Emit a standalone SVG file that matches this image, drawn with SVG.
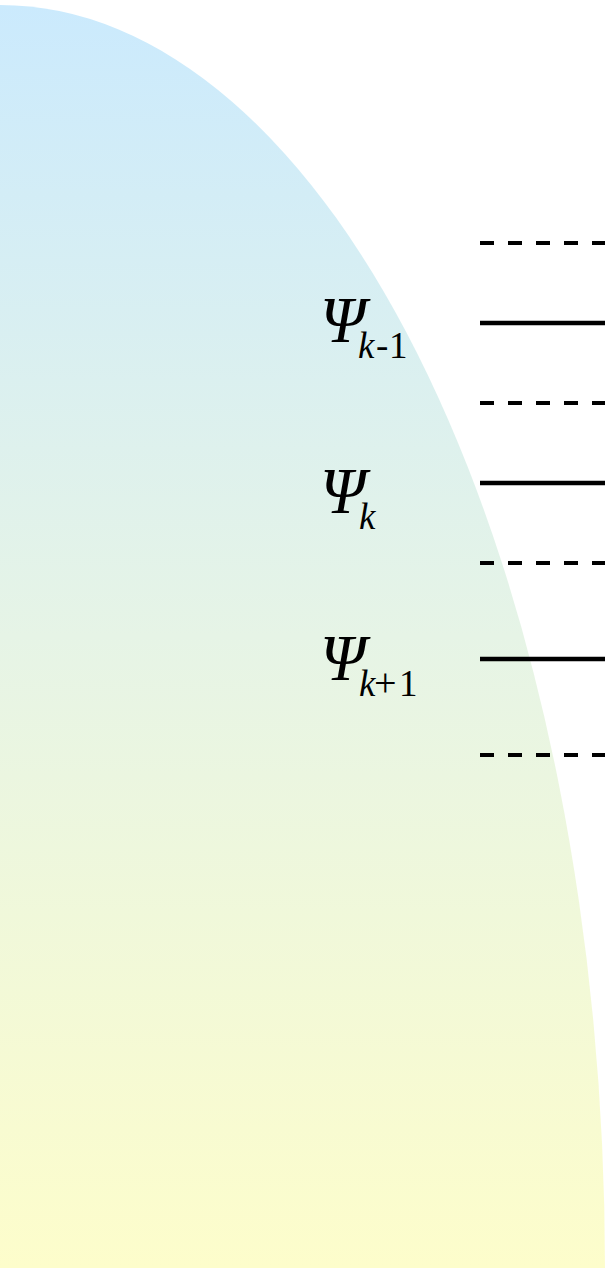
<svg xmlns="http://www.w3.org/2000/svg" width="605" height="1268" viewBox="0 0 605 1268">
<style>
.dash{stroke:#000;stroke-width:4;stroke-dasharray:14 14;fill:none}
.solid{stroke:#000;stroke-width:4.5;fill:none}
text{font-family:"Liberation Serif","Times New Roman",serif;fill:#000}
.sym{font-style:italic;font-size:65px}
.sub{font-size:37px;font-style:normal}
.op{font-size:40px;font-style:normal}
.it{font-style:italic}
</style>
<defs>
<linearGradient id="g" x1="0" y1="0" x2="0" y2="1">
<stop offset="0" stop-color="#cbeafd"/>
<stop offset="0.5" stop-color="#e6f4e6"/>
<stop offset="1" stop-color="#fdfdcb"/>
</linearGradient>
</defs>
<path id="well" d="M0,5 A605,1263 0 0 1 605,1268 L0,1268 Z" fill="url(#g)"/>
<g id="levels">
<line class="dash" x1="480" y1="243" x2="605" y2="243"/>
<line class="solid" x1="480" y1="323" x2="605" y2="323"/>
<line class="dash" x1="480" y1="403" x2="605" y2="403"/>
<line class="solid" x1="480" y1="483" x2="605" y2="483"/>
<line class="dash" x1="480" y1="563" x2="605" y2="563"/>
<line class="solid" x1="480" y1="659" x2="605" y2="659"/>
<line class="dash" x1="480" y1="755" x2="605" y2="755"/>
</g>
<g id="label-km1"><text x="320" y="342"><tspan class="sym">Ψ</tspan><tspan class="sub it" x="358" y="358">k</tspan><tspan class="sub" x="376">-</tspan><tspan class="sub" x="389">1</tspan></text></g>
<g id="label-k"><text x="320" y="513"><tspan class="sym">Ψ</tspan><tspan class="sub it" x="359" y="529">k</tspan></text></g>
<g id="label-kp1"><text x="320" y="680"><tspan class="sym">Ψ</tspan><tspan class="sub it" x="359" y="696">k</tspan><tspan class="op" x="374">+</tspan><tspan class="sub" x="399">1</tspan></text></g>
</svg>
